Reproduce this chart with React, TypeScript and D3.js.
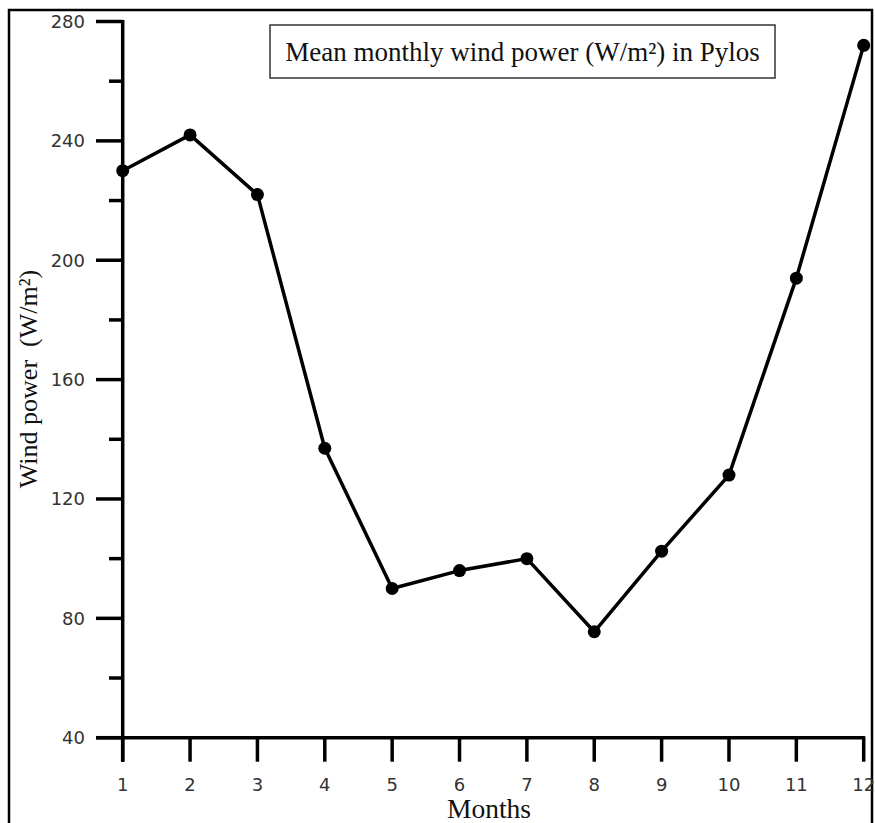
import React from "react";
import * as d3 from "d3";

const months = [1, 2, 3, 4, 5, 6, 7, 8, 9, 10, 11, 12];
const windPower = [230, 242, 222, 137, 90, 96, 100, 75.5, 102.5, 128, 194, 272];
const yMajorTicks = [40, 80, 120, 160, 200, 240, 280];
const yMinorTicks = [60, 100, 140, 180, 220, 260];
const titleText = "Mean monthly wind power (W/m²) in Pylos";
const xLabel = "Months";
const yLabel = "Wind power\u00A0\u00A0(W/m²)";

export default function App() {
  const W = 875;
  const H = 823;
  const x = d3.scaleLinear().domain([1, 12]).range([122.7, 863.7]);
  const y = d3.scaleLinear().domain([40, 280]).range([737.7, 21.5]);
  const pts = months.map((m, i) => [m, windPower[i]] as [number, number]);
  const line = d3
    .line<[number, number]>()
    .x((d) => x(d[0]))
    .y((d) => y(d[1]));
  const serif = "'Liberation Serif', 'Times New Roman', serif";
  const sans = "'DejaVu Sans', Verdana, sans-serif";
  const axisW = 3.5;
  return (
    <svg
      width={W}
      height={H}
      style={{ position: "absolute", left: 0, top: 0, background: "#fff" }}
    >
      <rect x={0} y={0} width={W} height={H} fill="#fff" />
      <rect x={9} y={10} width={863} height={830} fill="none" stroke="#000" strokeWidth={2.5} />
      {/* title box */}
      <rect x={270} y={25} width={505} height={53} fill="#fff" stroke="#333" strokeWidth={1.5} />
      <text x={522.5} y={61} textAnchor="middle" fontFamily={serif} fontSize={27} fill="#111">
        {titleText}
      </text>
      {/* y axis */}
      <line x1={x(1)} x2={x(1)} y1={y(280) - 1.5} y2={y(40) + 24} stroke="#000" strokeWidth={axisW} />
      {yMajorTicks.map((t) => (
        <g key={"ym" + t}>
          <line x1={96} x2={x(1)} y1={y(t)} y2={y(t)} stroke="#000" strokeWidth={axisW} />
          <text x={85} y={y(t) + 6.5} textAnchor="end" fontFamily={sans} fontSize={18} fill="#333">
            {t}
          </text>
        </g>
      ))}
      {yMinorTicks.map((t) => (
        <line key={"yn" + t} x1={109} x2={x(1)} y1={y(t)} y2={y(t)} stroke="#000" strokeWidth={axisW} />
      ))}
      {/* x axis */}
      <line x1={96} x2={x(12) + 1.5} y1={y(40)} y2={y(40)} stroke="#000" strokeWidth={axisW} />
      {months.map((m) => (
        <g key={"xm" + m}>
          <line x1={x(m)} x2={x(m)} y1={y(40)} y2={y(40) + 24} stroke="#000" strokeWidth={axisW} />
          <text x={x(m)} y={791} textAnchor="middle" fontFamily={sans} fontSize={18} fill="#333">
            {m}
          </text>
        </g>
      ))}
      <text x={489} y={818} textAnchor="middle" fontFamily={serif} fontSize={27.5} fill="#111">
        {xLabel}
      </text>
      <text
        transform={`translate(37,379) rotate(-90)`}
        textAnchor="middle"
        fontFamily={serif}
        fontSize={26}
        fill="#111"
      >
        {yLabel}
      </text>
      {/* data */}
      <path d={line(pts) || ""} fill="none" stroke="#000" strokeWidth={3.5} strokeLinejoin="round" />
      {pts.map((p, i) => (
        <circle key={"p" + i} cx={x(p[0])} cy={y(p[1])} r={6.5} fill="#000" />
      ))}
    </svg>
  );
}
